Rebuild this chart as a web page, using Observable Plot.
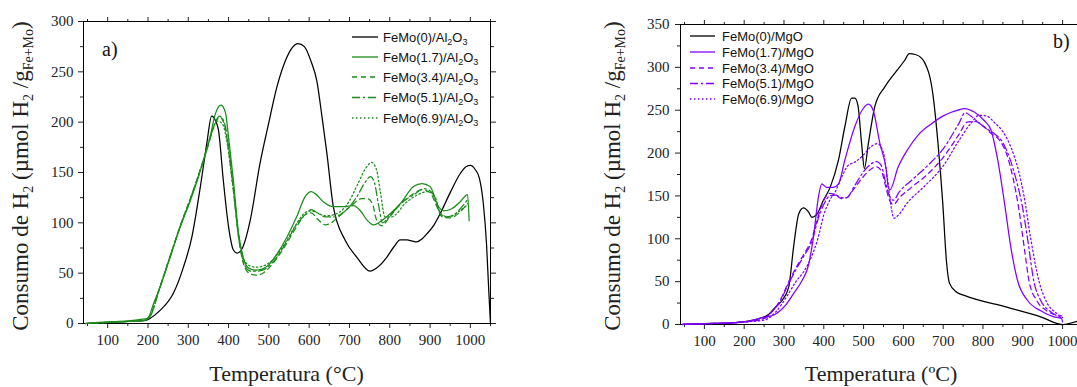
<!DOCTYPE html>
<html><head><meta charset="utf-8">
<script src="https://cdn.jsdelivr.net/npm/d3@7"></script>
<script src="https://cdn.jsdelivr.net/npm/@observablehq/plot@0.6"></script>
<style>
body{margin:0;background:#fff;overflow:hidden;}
#wrap{position:relative;width:1077px;height:387px;overflow:hidden;background:#fff;}
#a{position:absolute;left:0;top:0;width:540px;height:387px;}
#b{position:absolute;left:540px;top:0;width:560px;height:387px;}
#wrap svg{max-width:none !important;}
</style></head><body><div id="wrap"><div id="a"></div><div id="b"></div></div>
<script>
// ---------- tick values ----------
const xTicks = [100,200,300,400,500,600,700,800,900,1000];
const xMinor = [50,150,250,350,450,550,650,750,850,950,1050];
const yTicksA = [0,50,100,150,200,250,300];
const yMinorA = [25,75,125,175,225,275];
const yTicksB = [0,50,100,150,200,250,300,350];
const yMinorB = [25,75,125,175,225,275,325];

// ---------- legend names ----------
const loadingsA = ["0","1.7","3.4","5.1","6.9"];
const loadingsB = ["0","1.7","3.4","5.1","6.9"];

// ---------- a) FeMo/Al2O3 : [temperature, consumption] ----------
const al0 = [[45,0],[100,1],[150,2],[195,3],[205,5],[230,13],[263,30],[288,56],[309,86],[330,136],[346,179],[358,206],[367,202],[375,192],[387,142],[400,96],[412,73],[421,70],[433,74],[454,103],[478,159],[499,198],[520,235],[540,260],[558,274],[572,278],[588,275],[605,260],[619,241],[632,205],[644,169],[660,116],[689,83],[718,66],[751,52],[770,56],[793,66],[810,76],[826,83],[843,83],[855,82],[867,81],[880,84],[892,89],[910,98],[925,109],[950,130],[975,149],[990,156],[1000,157],[1012,153],[1022,145],[1032,120],[1040,80],[1046,30],[1050,0]];
const al17 = [[45,0],[100,1.5],[150,2.5],[181,4],[199,5],[214,20],[230,36],[255,66],[280,96],[305,122],[330,152],[354,185],[367,208],[381,217],[392,210],[400,185],[412,142],[425,89],[436,66],[450,55],[466,53],[483,54],[499,58],[520,69],[545,86],[569,106],[590,126],[605,131],[615,129],[635,121],[660,116],[685,116],[710,117],[727,112],[743,103],[760,98],[776,101],[801,109],[826,119],[859,136],[880,139],[900,136],[921,116],[934,112],[954,114],[975,121],[993,128],[997,102]];
const al34 = [[45,0],[100,1],[150,2],[190,3],[205,8],[230,37],[255,67],[280,97],[305,124],[330,153],[350,178],[365,197],[378,205],[390,197],[400,172],[412,132],[425,85],[440,56],[455,49],[470,48],[485,50],[500,55],[520,65],[545,80],[570,97],[590,108],[605,110],[620,104],[640,98],[655,100],[670,105],[690,112],[710,119],[730,124],[745,124],[757,119],[767,103],[780,97],[800,106],[830,120],[860,129],[880,133],[900,130],[915,118],[930,106],[950,105],[975,111],[993,119]];
const al51 = [[45,0],[100,1],[150,2],[190,3],[205,7],[230,36],[255,66],[280,96],[305,123],[330,152],[350,178],[365,198],[378,206],[390,199],[400,176],[412,135],[425,86],[440,58],[455,52],[470,52],[485,53],[500,57],[520,66],[545,82],[570,99],[590,108],[605,113],[620,110],[640,106],[660,106],[680,109],[700,116],[720,127],[740,141],[752,146],[762,140],[772,118],[782,100],[800,107],[830,120],[860,128],[885,134],[905,130],[920,114],[935,106],[955,107],[975,114],[993,123]];
const al69 = [[45,0],[100,1],[150,2],[190,3],[205,7],[230,37],[255,67],[280,97],[305,124],[330,153],[348,177],[362,195],[372,201],[385,198],[397,178],[410,138],[425,88],[440,62],[455,57],[470,56],[485,57],[500,60],[520,68],[545,83],[570,100],[590,110],[605,112],[620,110],[640,107],[660,108],[680,112],[700,122],[720,138],[740,154],[755,160],[767,153],[777,130],[788,106],[805,106],[840,120],[870,128],[895,131],[912,126],[927,109],[945,106],[970,111],[993,118]];

// ---------- b) FeMo/MgO ----------
const mg0 = [[45,0],[100,1],[150,1.5],[195,3],[237,7],[262,12],[278,20],[295,28],[312,44],[324,90],[337,129],[349,136],[362,131],[370,125],[382,128],[399,145],[416,160],[437,192],[453,231],[470,264],[478,264],[486,255],[495,211],[502,182],[512,211],[528,254],[553,277],[578,293],[603,308],[615,316],[630,315],[645,311],[653,306],[674,269],[687,211],[699,141],[708,75],[716,48],[733,38],[753,34],[862,20],[945,9],[1000,0],[1045,5]];
const mg17 = [[45,0],[100,1],[150,1.5],[200,3],[237,7],[278,12],[303,22],[324,36],[345,51],[362,70],[374,102],[387,150],[395,164],[407,160],[424,160],[437,164],[453,192],[478,231],[499,252],[512,257],[524,250],[541,211],[557,180],[562,160],[566,157],[587,184],[612,205],[637,221],[670,234],[703,244],[737,250],[753,252],[778,248],[803,238],[820,227],[837,192],[853,145],[870,90],[887,51],[912,28],[945,16],[978,9],[997,7],[1000,3]];
const mg34 = [[45,0],[100,1],[150,1.5],[200,3],[250,7],[270,15],[290,28],[312,50],[330,66],[350,82],[370,100],[385,125],[400,145],[415,153],[430,151],[445,147],[458,148],[475,158],[495,170],[515,180],[532,184],[545,179],[555,162],[565,145],[575,140],[590,148],[620,160],[660,175],[700,195],[740,222],[760,236],[780,237],[800,232],[820,223],[840,216],[860,198],[875,172],[890,135],[905,85],[916,50],[935,28],[960,16],[997,10]];
const mg51 = [[45,0],[100,1],[150,1.5],[200,3],[250,7],[270,15],[290,27],[312,48],[330,64],[350,80],[370,97],[385,122],[400,140],[415,150],[430,151],[445,148],[458,148],[475,160],[495,175],[515,186],[532,190],[545,185],[555,166],[565,150],[575,145],[590,155],[620,168],[660,185],[700,205],[740,235],[755,247],[770,243],[790,235],[810,228],[830,222],[850,212],[870,190],[885,166],[898,140],[912,100],[928,50],[945,28],[970,15],[997,8]];
const mg69 = [[45,0],[100,1],[150,1.5],[200,3],[250,5],[280,15],[310,35],[330,50],[350,62],[370,80],[385,100],[400,128],[415,145],[430,156],[445,172],[460,185],[480,190],[500,198],[520,208],[535,211],[550,200],[560,170],[570,135],[576,124],[588,128],[610,142],[650,160],[700,185],[740,215],[770,235],[790,244],[810,243],[830,235],[850,225],[870,207],[890,178],[903,150],[920,100],[941,50],[960,26],[985,13],[1000,8]];

const GREEN = "#1a8c1a", VIOLET = "#8000ff";
const dashes = [null, null, "5,4", "8,3,2,3", "1.5,2.5"];

function mkSeries(arrs, colors) {
  return arrs.map((d, i) => Plot.line(d, {x: d => d[0], y: d => d[1], stroke: colors[i], strokeWidth: 1.25, strokeDasharray: dashes[i], curve: "monotone-x"}));
}
function axes(yT, yM, yPad) {
  const none = () => "";
  const plain = d => String(d);
  return [
    Plot.axisX({ticks: xTicks, tickSize: 5, tickPadding: 6, tickFormat: plain, label: null}),
    Plot.axisX({ticks: xMinor, tickSize: 3, tickFormat: none, label: null}),
    Plot.axisX({anchor: "top", ticks: xTicks, tickSize: 5, tickFormat: none, label: null}),
    Plot.axisX({anchor: "top", ticks: xMinor, tickSize: 3, tickFormat: none, label: null}),
    Plot.axisY({ticks: yT, tickSize: 5, tickPadding: yPad, tickFormat: plain, label: null}),
    Plot.axisY({ticks: yM, tickSize: 3, tickFormat: none, label: null}),
    Plot.axisY({anchor: "right", ticks: yT, tickSize: 5, tickFormat: none, label: null}),
    Plot.axisY({anchor: "right", ticks: yM, tickSize: 3, tickFormat: none, label: null}),
    Plot.frame({stroke: "#000", strokeWidth: 1})
  ];
}
const style = {fontFamily: "'Liberation Serif', serif", fontSize: "15px", color: "#222", background: "transparent", overflow: "visible", maxWidth: "none"};

const plotA = Plot.plot({
  width: 540, height: 387, marginLeft: 83, marginRight: 50, marginTop: 21, marginBottom: 64,
  x: {domain: [40, 1050]}, y: {domain: [0, 300]}, style,
  marks: [...axes(yTicksA, yMinorA, 5), ...mkSeries([al0, al17, al34, al51, al69], ["#000", GREEN, GREEN, GREEN, GREEN])]
});
const plotB = Plot.plot({
  width: 560, height: 387, marginLeft: 140, marginRight: 18, marginTop: 24, marginBottom: 63,
  x: {domain: [40, 1050]}, y: {domain: [0, 350]}, style,
  marks: [...axes(yTicksB, yMinorB, 6), ...mkSeries([mg0, mg17, mg34, mg51, mg69], ["#000", VIOLET, VIOLET, VIOLET, VIOLET])]
});
document.getElementById("a").appendChild(plotA);
document.getElementById("b").appendChild(plotB);

const SERIF = "'Liberation Serif', serif", SANS = "'Liberation Sans', Arial, sans-serif";

function yLabel(svg, x, y) {
  const t = d3.select(svg).append("text").attr("transform", `translate(${x},${y}) rotate(-90)`)
    .attr("text-anchor", "middle").attr("font-family", SERIF).attr("font-size", 23).attr("fill", "#222");
  t.append("tspan").text("Consumo de H");
  t.append("tspan").attr("dy", 5).attr("font-size", 14).text("2");
  t.append("tspan").attr("dy", -5).text(" (µmol H");
  t.append("tspan").attr("dy", 5).attr("font-size", 14).text("2");
  t.append("tspan").attr("dy", -5).text(" /g");
  t.append("tspan").attr("dy", 5).attr("font-size", 14).text("Fe+Mo");
  t.append("tspan").attr("dy", -5).text(")");
}
function xLabel(svg, x, y, txt) {
  d3.select(svg).append("text").attr("x", x).attr("y", y).attr("text-anchor", "middle")
    .attr("font-family", SERIF).attr("font-size", 22).attr("fill", "#222").text(txt);
}
function panelTag(svg, x, y, txt) {
  d3.select(svg).append("text").attr("x", x).attr("y", y).attr("text-anchor", "start").attr("font-family", SERIF)
    .attr("font-size", 20).attr("fill", "#111").text(txt);
}
function legend(svg, x1, x2, tx, rows, colors, names, support) {
  const g = d3.select(svg).append("g").attr("text-anchor", "start");
  rows.forEach((ry, i) => {
    g.append("line").attr("x1", x1).attr("x2", x2).attr("y1", ry).attr("y2", ry)
      .attr("stroke", colors[i]).attr("stroke-width", 1.3).attr("stroke-dasharray", dashes[i]);
    const t = g.append("text").attr("x", tx).attr("y", ry + 4.6).attr("text-anchor", "start").attr("font-family", SANS)
      .attr("font-size", 13).attr("fill", "#111");
    if (support === "Al2O3") {
      t.append("tspan").text(`FeMo(${names[i]})/Al`);
      t.append("tspan").attr("dy", 3).attr("font-size", 9).text("2");
      t.append("tspan").attr("dy", -3).text("O");
      t.append("tspan").attr("dy", 3).attr("font-size", 9).text("3");
    } else {
      t.text(`FeMo(${names[i]})/MgO`);
    }
  });
}

yLabel(plotA, 28, 176);
xLabel(plotA, 286.5, 381, "Temperatura (°C)");
panelTag(plotA, 102, 56, "a)");
legend(plotA, 352, 378, 383, [37, 57, 77, 97.5, 118], ["#000", GREEN, GREEN, GREEN, GREEN], loadingsA, "Al2O3");

yLabel(plotB, 80, 176);
xLabel(plotB, 341, 381, "Temperatura (ºC)");
panelTag(plotB, 513, 48, "b)");
legend(plotB, 150, 175, 182, [36, 52, 68, 83.5, 99], ["#000", VIOLET, VIOLET, VIOLET, VIOLET], loadingsB, "MgO");
</script></body></html>
